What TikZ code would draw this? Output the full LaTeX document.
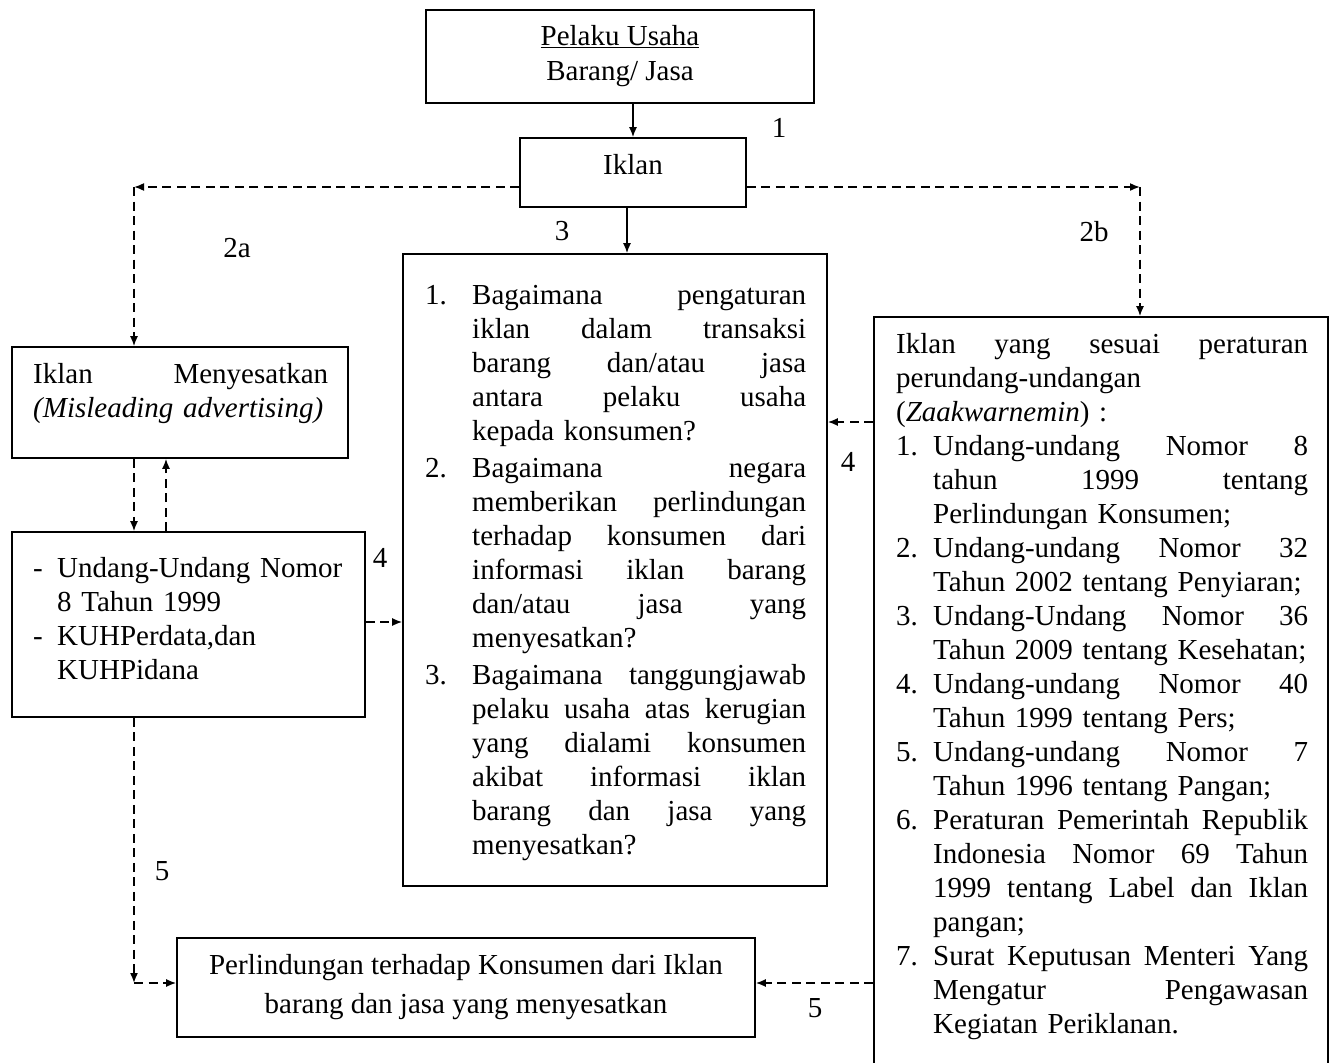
\documentclass[tikz,border=0pt]{standalone}
\usepackage{fontspec}
\setmainfont{Liberation Serif}
\usepackage{enumitem}
\usetikzlibrary{arrows.meta}

\setlist{topsep=0pt, partopsep=0pt, parsep=0pt, itemsep=0pt, labelsep=0pt, itemindent=0pt, align=left}
\newcommand{\rata}[1]{\leavevmode\hbox to \linewidth{\spaceskip=.25em plus 1fil\relax #1}\\}

\begin{document}
\begin{tikzpicture}[x=1pt, y=-1pt,
    every node/.style={font=\fontsize{29}{34}\selectfont},
    kotak/.style={draw, line width=1.6pt, inner sep=0pt},
    teks/.style={inner sep=0pt, anchor=base west},
    panah/.style={line width=1.6pt, -{Latex[length=10pt,width=8pt]}},
    putus/.style={panah, dash pattern=on 9pt off 5.5pt},
    angka/.style={anchor=base}]
    \useasboundingbox (0,0) rectangle (1334,1063);

    % Kotak
    \node[kotak, minimum width=388pt, minimum height=93pt, align=center] (pelaku) at (620,56.5) {\underline{Pelaku Usaha}\\[1pt]Barang/ Jasa};
    \node[kotak, minimum width=226pt, minimum height=69pt, text height=20pt, text depth=16pt] (iklan) at (633,172.5) {Iklan};
    \node[kotak, minimum width=424pt, minimum height=632pt] (masalah) at (615,570) {};
    \node[kotak, minimum width=454pt, minimum height=783pt] (atur) at (1101,708.5) {};
    \node[kotak, minimum width=336pt, minimum height=111pt] (mis) at (180,402.5) {};
    \node[kotak, minimum width=353pt, minimum height=185pt] (hukum) at (188.5,624.5) {};
    \node[kotak, minimum width=578pt, minimum height=99pt, align=center] (bawah) at (466,987.5) {Perlindungan terhadap Konsumen dari Iklan\\[5pt]barang dan jasa yang menyesatkan};

    % Isi kotak
    \node[teks, text width=381pt] (masalahteks) at (425,270) {%
        \begin{enumerate}[label=\arabic*., leftmargin=47pt, labelwidth=47pt, itemsep=3pt]
            \item \rata{Bagaimana pengaturan}\rata{iklan dalam transaksi}\rata{barang dan/atau jasa}\rata{antara pelaku usaha}kepada konsumen?
            \item \rata{Bagaimana negara}\rata{memberikan perlindungan}\rata{terhadap konsumen dari}\rata{informasi iklan barang}\rata{dan/atau jasa yang}menyesatkan?
            \item \rata{Bagaimana tanggungjawab}\rata{pelaku usaha atas kerugian}\rata{yang dialami konsumen}\rata{akibat informasi iklan}\rata{barang dan jasa yang}menyesatkan?
        \end{enumerate}};
    \node[teks, text width=412pt] (aturteks) at (896,353) {%
        \rata{Iklan yang sesuai peraturan}perundang-undangan\\(\textit{Zaakwarnemin}) :
        \begin{enumerate}[label=\arabic*., leftmargin=37pt, labelwidth=37pt]
            \item \rata{Undang-undang Nomor 8}\rata{tahun 1999 tentang}Perlindungan Konsumen;
            \item \rata{Undang-undang Nomor 32}Tahun 2002 tentang Penyiaran;
            \item \rata{Undang-Undang Nomor 36}Tahun 2009 tentang Kesehatan;
            \item \rata{Undang-undang Nomor 40}Tahun 1999 tentang Pers;
            \item \rata{Undang-undang Nomor 7}Tahun 1996 tentang Pangan;
            \item \rata{Peraturan Pemerintah Republik}\rata{Indonesia Nomor 69 Tahun}\rata{1999 tentang Label dan Iklan}pangan;
            \item \rata{Surat Keputusan Menteri Yang}\rata{Mengatur Pengawasan}Kegiatan Periklanan.
        \end{enumerate}};
    \node[teks, text width=295pt] (misteks) at (33,383) {\rata{Iklan Menyesatkan}\textit{(Misleading advertising)}};
    \node[teks, text width=315pt] (hukumteks) at (33,543) {%
        \begin{itemize}[label=-, leftmargin=24pt, labelwidth=24pt]
            \item Undang-Undang Nomor\\8 Tahun 1999
            \item KUHPerdata,dan\\KUHPidana
        \end{itemize}};

    % Nomor
    \node[angka] (n1) at (779,137) {1};
    \node[angka] (n2a) at (237,257) {2a};
    \node[angka] (n3) at (562,240) {3};
    \node[angka] (n2b) at (1094,241) {2b};
    \node[angka] (n4a) at (848,471) {4};
    \node[angka] (n4b) at (380,567) {4};
    \node[angka] (n5a) at (162,880) {5};
    \node[angka] (n5b) at (815,1017) {5};

    % Titik belok
    \coordinate (sudutkiri) at (134,187);
    \coordinate (sudutkanan) at (1140,187);
    \coordinate (sudutbawah) at (134,983);
    \coordinate (naik) at (166,495);
    \coordinate (panah4a) at (850,422);
    \coordinate (panah4b) at (384,622);

    % Panah
    \draw[panah] (iklan.north |- pelaku.south) -- (iklan.north);
    \draw[panah] ([xshift=-6pt]iklan.south) -- ([xshift=-6pt]iklan.south |- masalah.north);
    \draw[putus] (iklan.west |- sudutkiri) -- (sudutkiri);
    \draw[putus] (sudutkiri) -- (sudutkiri |- mis.north);
    \draw[putus] (iklan.east |- sudutkanan) -- (sudutkanan);
    \draw[putus] (sudutkanan) -- (sudutkanan |- atur.north);
    \draw[putus] (sudutkiri |- mis.south) -- (sudutkiri |- hukum.north);
    \draw[putus] (naik |- hukum.north) -- (naik |- mis.south);
    \draw[putus] (atur.west |- panah4a) -- (masalah.east |- panah4a);
    \draw[putus] (hukum.east |- panah4b) -- (masalah.west |- panah4b);
    \draw[putus] (sudutkiri |- hukum.south) -- (sudutbawah);
    \draw[putus] (sudutbawah) -- (sudutbawah -| bawah.west);
    \draw[putus] (atur.west |- sudutbawah) -- (sudutbawah -| bawah.east);
\end{tikzpicture}
\end{document}
